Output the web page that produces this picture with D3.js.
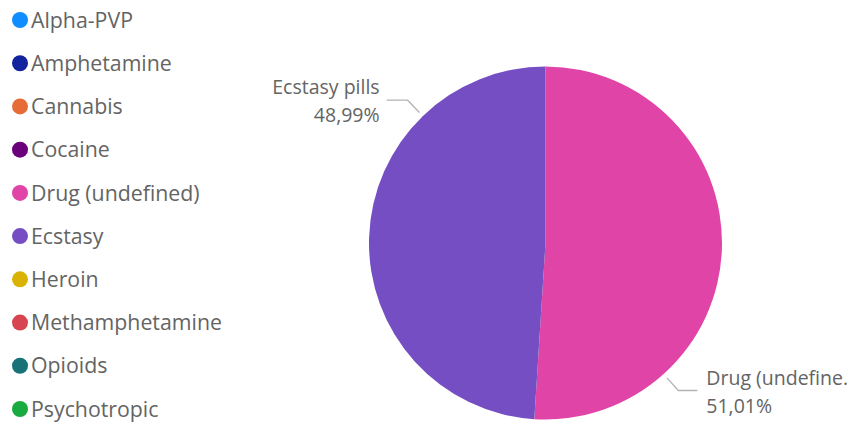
<!DOCTYPE html>
<html>
<head>
<meta charset="utf-8">
<script src="https://cdn.jsdelivr.net/npm/d3@7"></script>
<style>
  html, body { margin: 0; padding: 0; background: #ffffff; }
  svg { display: block; }
  text { font-family: "Open Sans", "Noto Sans", sans-serif; }
</style>
</head>
<body>
<svg id="chart" width="851" height="424"></svg>
<script>
// ---- data ----
const categories = ["Alpha-PVP", "Amphetamine", "Cannabis", "Cocaine", "Drug (undefined)",
                    "Ecstasy", "Heroin", "Methamphetamine", "Opioids", "Psychotropic"];
const shares = [0, 0, 0, 0, 51.01, 48.99, 0, 0, 0, 0];
const sliceLabels = ["Alpha-PVP", "Amphetamine", "Cannabis", "Cocaine", "Drug (undefine.",
                     "Ecstasy pills", "Heroin", "Methamphetamine", "Opioids", "Psychotropic"];
const percentLabels = ["", "", "", "", "51,01%", "48,99%", "", "", "", ""];
const colors = ["#118DFF", "#12239E", "#E66C37", "#6B007B", "#E044A7",
                "#744EC2", "#D9B300", "#D64550", "#197278", "#1AAB40"];

// ---- layout ----
const svg = d3.select("#chart");
const cx = 545.5, cy = 243, radius = 176.5;
const legendFont = 21.3;
const labelFont = 19.5;
const textColor = "#646464";

const color = d3.scaleOrdinal().domain(categories).range(colors);

// legend
const legendY = d3.scalePoint().domain(categories).range([20, 409]);
const legend = svg.append("g");
const items = legend.selectAll("g").data(categories).join("g")
  .attr("transform", d => `translate(0,${legendY(d)})`);
items.append("circle").attr("cx", 20).attr("cy", 0).attr("r", 8).attr("fill", d => color(d));
items.append("text").attr("x", 31).attr("y", 0).attr("dy", "0.36em")
  .attr("font-size", legendFont).attr("fill", textColor).text(d => d);

// pie
const pie = d3.pie().sort(null).value(d => d.v);
const arcs = pie(categories.map((c, i) => ({ c, v: shares[i], i })));
const arc = d3.arc().innerRadius(0).outerRadius(radius);
const g = svg.append("g").attr("transform", `translate(${cx},${cy})`);
g.selectAll("path").data(arcs.filter(a => a.data.v > 0)).join("path")
  .attr("d", arc).attr("fill", d => color(d.data.c));

// labels with leader lines (label angles chosen like the reference's placement)
const labelAngleDeg = { "Drug (undefined)": 138, "Ecstasy": 316 };
const pt = (ang, r) => [Math.sin(ang) * r, -Math.cos(ang) * r];
arcs.filter(a => a.data.v > 0).forEach(a => {
  const ang = labelAngleDeg[a.data.c] * Math.PI / 180;
  const p0 = pt(ang, radius + 5);
  const p1 = pt(ang, radius + 22);
  const right = Math.sin(ang) > 0;
  const p2 = [p1[0] + (right ? 19 : -21), p1[1]];
  g.append("polyline").attr("points", [p0, p1, p2].map(p => p.join(",")).join(" "))
    .attr("fill", "none").attr("stroke", "#b3b3b3").attr("stroke-width", 1.3);
  const tx = p2[0] + (right ? 9 : -7);
  const t = g.append("text").attr("x", tx).attr("y", p1[1] - 6)
    .attr("text-anchor", right ? "start" : "end")
    .attr("font-size", labelFont).attr("fill", textColor);
  t.append("tspan").attr("x", tx).text(sliceLabels[a.data.i]);
  t.append("tspan").attr("x", tx).attr("dy", 28).text(percentLabels[a.data.i]);
});
</script>
</body>
</html>
